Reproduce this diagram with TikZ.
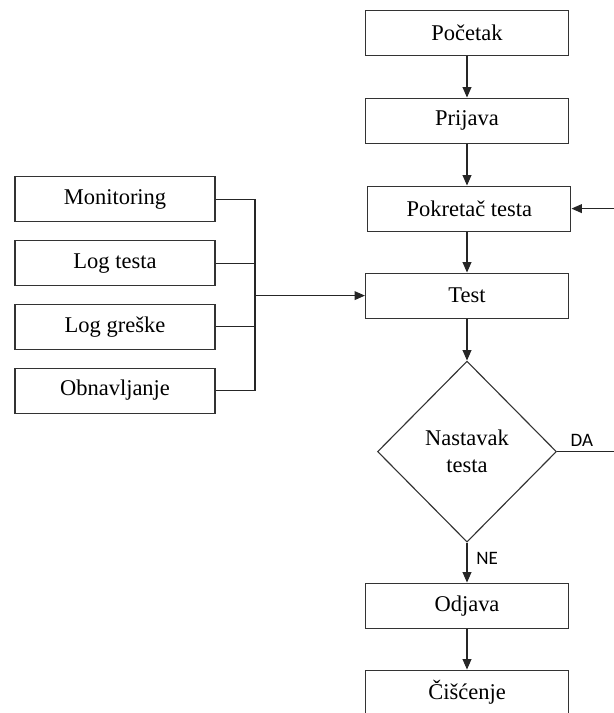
\documentclass[tikz,border=0pt]{standalone}
\usepackage{fontspec}
\setmainfont{Liberation Serif}
\newfontfamily\labelfont{Carlito}
\usetikzlibrary{shapes.geometric, arrows.meta, positioning, calc}
\tikzset{
    base/.style = {
        draw=black!80, line width=0.8pt, text centered,
        font=\fontsize{16}{19}\selectfont
    },
    % Boxes
    stepbox/.style  = {base, rectangle, minimum width=5.075cm, minimum height=1.125cm, inner sep=0pt},
    sidebox/.style  = {base, rectangle, minimum width=5cm, minimum height=1.125cm, inner sep=0pt},
    decision/.style = {base, diamond, minimum width=4.475cm, minimum height=4.525cm, inner sep=0pt, align=center},
    % Edges and labels
    arrow/.style  = {line width=0.8pt, draw=black!85, -{Triangle[length=2.6mm, width=2.2mm]}},
    line/.style   = {line width=0.8pt, draw=black!85},
    answer/.style = {font=\labelfont\fontsize{13.5}{16}\selectfont}
}

\begin{document}
\begin{tikzpicture}
    \useasboundingbox (0,0) rectangle (15.35,17.825);

    % Main column
    \node (start) [stepbox] at (11.675,17.01) {Početak};
    \node (login) [stepbox, below=1.047cm of start] {Prijava};
    \node (runner) [stepbox, below=1.047cm of login, xshift=0.06cm] {Pokretač testa};
    \node (test) [stepbox, below=1.022cm of runner, xshift=-0.06cm] {Test};
    \node (more) [decision, below=1.047cm of test] {Nastavak\\testa};
    \node (logout) [stepbox, below=0.997cm of more] {Odjava};
    \node (cleanup) [stepbox, below=1.022cm of logout] {Čišćenje};

    % Side inputs
    \node (monitor) [sidebox] at (2.875,12.84) {Monitoring};
    \node (testlog) [sidebox, below=0.44cm of monitor] {Log testa};
    \node (errlog) [sidebox, below=0.44cm of testlog] {Log greške};
    \node (restore) [sidebox, below=0.44cm of errlog] {Obnavljanje};

    % Bus line and the edge of the cut-off page
    \coordinate (bus) at (6.375,0);
    \coordinate (edge) at (15.6,0);

    \draw [line] (monitor.east) -- (monitor.east -| bus) -- (restore.east -| bus) -- (restore.east);
    \draw [line] (testlog.east) -- (testlog.east -| bus);
    \draw [line] (errlog.east) -- (errlog.east -| bus);
    \draw [arrow] (test.west -| bus) -- (test.west);

    % Flow
    \draw [arrow] (start) -- (login);
    \draw [arrow] (login) -- (login |- runner.north);
    \draw [arrow] (runner.south -| test) -- (test);
    \draw [arrow] (test) -- (more);
    \draw [arrow] (more.south) -- node[answer, right, pos=0.4, xshift=0.1cm] {NE} (logout.north);
    \draw [arrow] (logout) -- (cleanup);

    % Loop back (continues off the page)
    \draw [line] (more.east) -- node[answer, above, pos=0.37] {DA} (more.east -| edge);
    \draw [arrow] (runner.east -| edge) -- (runner.east);
\end{tikzpicture}
\end{document}
